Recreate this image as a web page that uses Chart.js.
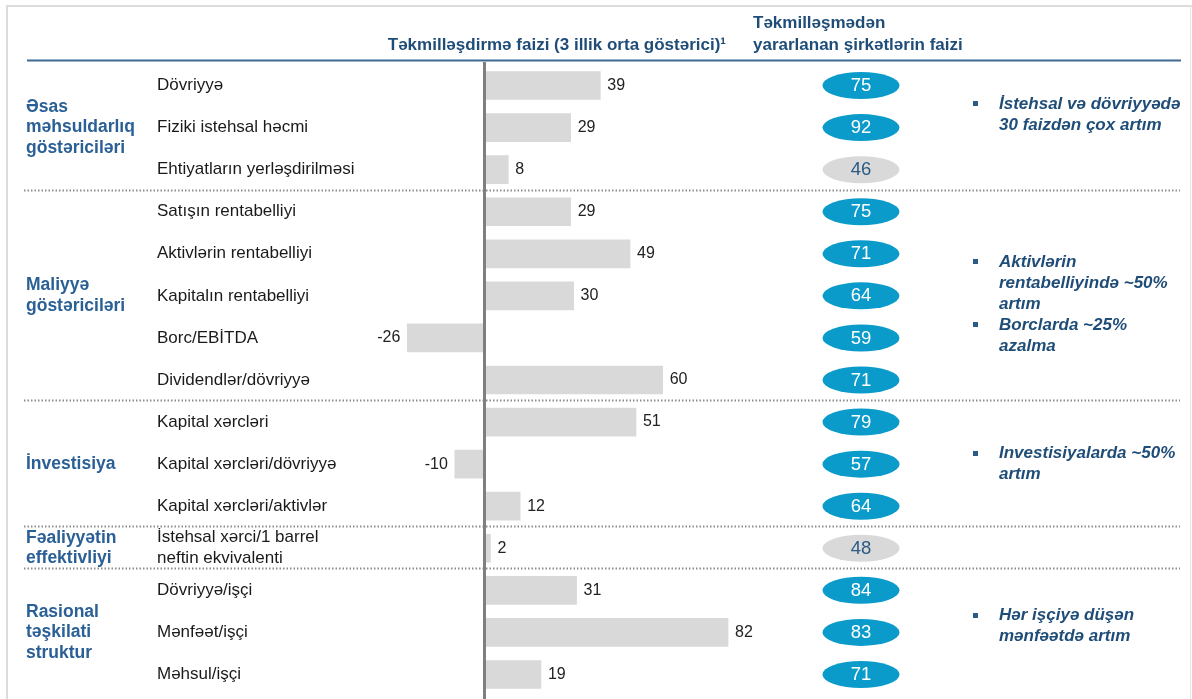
<!DOCTYPE html>
<html>
<head>
<meta charset="utf-8">
<script src="https://cdn.jsdelivr.net/npm/chart.js@4.4.1/dist/chart.umd.min.js"></script>
<style>
  html, body { margin: 0; padding: 0; background: #fff; }
  #wrap { width: 1192px; height: 699px; position: relative; }
</style>
</head>
<body>
<div id="wrap"><canvas id="grafico"></canvas></div>
<script>
// dados
const categories = [
  'Dövriyyə', 'Fiziki istehsal həcmi', 'Ehtiyatların yerləşdirilməsi',
  'Satışın rentabelliyi', 'Aktivlərin rentabelliyi', 'Kapitalın rentabelliyi', 'Borc/EBİTDA', 'Dividendlər/dövriyyə',
  'Kapital xərcləri', 'Kapital xərcləri/dövriyyə', 'Kapital xərcləri/aktivlər',
  ['İstehsal xərci/1 barrel', 'neftin ekvivalenti'],
  'Dövriyyə/işçi', 'Mənfəət/işçi', 'Məhsul/işçi'
];
const improvement = [39, 29, 8, 29, 49, 30, -26, 60, 51, -10, 12, 2, 31, 82, 19];
const companyShare = [75, 92, 46, 75, 71, 64, 59, 71, 79, 57, 64, 48, 84, 83, 71];
const shareHighlighted = [true, true, false, true, true, true, true, true, true, true, true, false, true, true, true];

const groupLabels = [
  ['Əsas', 'məhsuldarlıq', 'göstəriciləri'],
  ['Maliyyə', 'göstəriciləri'],
  ['İnvestisiya'],
  ['Fəaliyyətin', 'effektivliyi'],
  ['Rasional', 'təşkilati', 'struktur']
];
const groupSizes = [3, 5, 3, 1, 3];

// notas da direita: linha (categoria) onde fica o centro + textos
const notes = [
  { at: 0.7, items: [['İstehsal və dövriyyədə', '30 faizdən çox artım']] },
  { at: 5.2, items: [['Aktivlərin', 'rentabelliyində ~50%', 'artım'], ['Borclarda ~25%', 'azalma']] },
  { at: 9, items: [['Investisiyalarda ~50%', 'artım']] },
  { at: 12.85, items: [['Hər işçiyə düşən', 'mənfəətdə artım']] }
];

const header1 = 'Təkmilləşdirmə faizi (3 illik orta göstərici)¹';
const header2 = ['Təkmilləşmədən', 'yararlanan şirkətlərin faizi'];

const FAMILY = '"Liberation Sans", Arial, sans-serif';

function txt(ctx, s, x, y, size, o) {
  o = o || {};
  ctx.save();
  ctx.font = (o.italic ? 'italic ' : '') + (o.bold ? 'bold ' : '') + size + 'px ' + FAMILY;
  ctx.fillStyle = o.color || '#1a1a1a';
  ctx.textBaseline = 'middle';
  ctx.textAlign = o.align || 'left';
  ctx.fillText(s, x, y);
  ctx.restore();
}

const DARKBLUE = '#1f4d78';
const GROUPBLUE = '#2a6096';

const decor = {
  id: 'decor',
  beforeDraw(chart) {
    const ctx = chart.ctx;
    const y = chart.scales.y;
    const W = chart.width;
    ctx.save();
    // moldura
    ctx.strokeStyle = '#dcdcdc';
    ctx.lineWidth = 2;
    ctx.beginPath();
    ctx.moveTo(7, 699); ctx.lineTo(7, 6); ctx.lineTo(W, 6);
    ctx.stroke();
    ctx.lineWidth = 1;
    ctx.strokeStyle = '#e6e6e6';
    ctx.beginPath();
    ctx.moveTo(1190.5, 6); ctx.lineTo(1190.5, 699);
    ctx.stroke();

    // cabeçalhos
    txt(ctx, header1, 726, 45, 17, { color: DARKBLUE, align: 'right', bold: true });
    txt(ctx, header2[0], 753, 23, 17, { color: DARKBLUE, bold: true });
    txt(ctx, header2[1], 753, 45, 17, { color: DARKBLUE, bold: true });

    ctx.strokeStyle = '#3d6b94';
    ctx.lineWidth = 2;
    ctx.beginPath();
    ctx.moveTo(27, 60.5); ctx.lineTo(1181, 60.5);
    ctx.stroke();

    // separadores pontilhados
    ctx.strokeStyle = '#8c8c8c';
    ctx.lineWidth = 2;
    ctx.setLineDash([1.5, 2]);
    let idx = 0;
    for (let g = 0; g < groupSizes.length - 1; g++) {
      idx += groupSizes[g];
      const yy = Math.round((y.getPixelForValue(idx - 1) + y.getPixelForValue(idx)) / 2) - 0.5;
      ctx.beginPath();
      ctx.moveTo(24, yy); ctx.lineTo(1180, yy);
      ctx.stroke();
    }
    ctx.restore();
  },
  afterDatasetsDraw(chart) {
    const ctx = chart.ctx;
    const x = chart.scales.x;
    const y = chart.scales.y;
    const zero = x.getPixelForValue(0);

    // eixo zero
    ctx.save();
    ctx.strokeStyle = '#7f7f7f';
    ctx.lineWidth = 3;
    ctx.beginPath();
    ctx.moveTo(zero, 62); ctx.lineTo(zero, 699);
    ctx.stroke();
    ctx.restore();

    const meta = chart.getDatasetMeta(0);
    for (let i = 0; i < categories.length; i++) {
      const cy = y.getPixelForValue(i);
      // rótulos das categorias
      const lab = categories[i];
      if (Array.isArray(lab)) {
        txt(ctx, lab[0], 157, cy - 10.5, 17);
        txt(ctx, lab[1], 157, cy + 10.5, 17);
      } else {
        txt(ctx, lab, 157, cy, 17);
      }
      // valores das barras
      const v = improvement[i];
      const bx = meta.data[i].x;
      if (v >= 0) txt(ctx, String(v), bx + 7, cy, 16, { color: '#222' });
      else txt(ctx, String(v), bx - 7, cy, 16, { color: '#222', align: 'right' });

      // elipses
      ctx.save();
      ctx.fillStyle = shareHighlighted[i] ? '#0b9bcb' : '#d9d9d9';
      ctx.beginPath();
      ctx.ellipse(861, cy, 38.5, 13.5, 0, 0, Math.PI * 2);
      ctx.fill();
      ctx.restore();
      txt(ctx, String(companyShare[i]), 861, cy + 0.5, 18.5, {
        color: shareHighlighted[i] ? '#ffffff' : '#2b5a85', align: 'center'
      });
    }

    // rótulos dos grupos
    let start = 0;
    for (let g = 0; g < groupSizes.length; g++) {
      const mid = (y.getPixelForValue(start) + y.getPixelForValue(start + groupSizes[g] - 1)) / 2;
      const lines = groupLabels[g];
      const lh = 20.5;
      const top = mid - (lines.length - 1) * lh / 2;
      lines.forEach((l, k) => txt(ctx, l, 26, top + k * lh, 17.5, { bold: true, color: GROUPBLUE }));
      start += groupSizes[g];
    }

    // notas
    const lh = 21;
    notes.forEach(n => {
      const total = n.items.reduce((s, it) => s + it.length, 0);
      const c = y.getPixelForValue(0) + n.at * (y.getPixelForValue(1) - y.getPixelForValue(0));
      let yy = c - (total - 1) * lh / 2;
      n.items.forEach(it => {
        ctx.save();
        ctx.fillStyle = '#2a5a86';
        ctx.fillRect(973, Math.round(yy) - 3, 5, 5);
        ctx.restore();
        it.forEach(line => {
          txt(ctx, line, 999, yy, 17, { bold: true, italic: true, color: DARKBLUE });
          yy += lh;
        });
      });
    });
  }
};

new Chart('grafico', {
  type: 'bar',
  data: {
    labels: categories,
    datasets: [{
      data: improvement,
      backgroundColor: '#d9d9d9',
      borderWidth: 0,
      barThickness: 28
    }]
  },
  options: {
    indexAxis: 'y',
    responsive: true,
    maintainAspectRatio: false,
    animation: false,
    layout: { padding: { left: 187.5, right: 113.5, top: 64.5, bottom: 3.5 } },
    scales: {
      x: { display: false, min: -100, max: 200 },
      y: { display: false }
    },
    plugins: {
      legend: { display: false },
      tooltip: { enabled: false }
    }
  },
  plugins: [decor]
});
</script>
</body>
</html>
